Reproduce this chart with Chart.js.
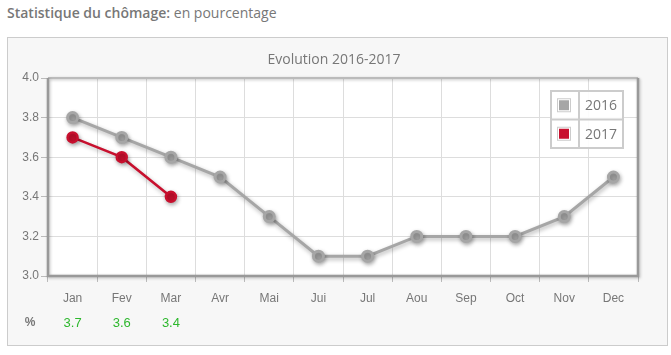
<!DOCTYPE html>
<html><head><meta charset="utf-8">
<script src="https://cdn.jsdelivr.net/npm/chart.js@4.4.1/dist/chart.umd.min.js"></script>
<style>
body{margin:0;background:#fff;width:671px;height:355px;overflow:hidden;position:relative;font-family:"Open Sans",sans-serif;}
#hd{position:absolute;left:7px;top:3px;font-size:14px;color:#777;}
#hd b{font-weight:600;}
#box{position:absolute;left:7px;top:37px;width:659px;height:307px;border:1px solid #ccc;background:#f7f7f7;}
#c{position:absolute;left:0;top:0;}
</style></head><body>
<div id="hd"><b>Statistique du chômage:</b> en pourcentage</div>
<div id="box"><canvas id="c" width="659" height="307"></canvas></div>
<script>
const months = ['Jan','Fev','Mar','Avr','Mai','Jui','Jul','Aou','Sep','Oct','Nov','Dec'];
const values2016 = [3.8,3.7,3.6,3.5,3.3,3.1,3.1,3.2,3.2,3.2,3.3,3.5];
const values2017 = [3.7,3.6,3.4];
const seriesNames = ['2016','2017'];
const chartTitle = 'Evolution 2016-2017';
const rowLabel = '%';

const gray = '#a6a6a6', red = '#c8102e';

const deco = {
  id:'deco',
  beforeDraw(chart){
    const {ctx, chartArea:a} = chart;
    ctx.save();
    ctx.fillStyle='#fff';
    ctx.fillRect(a.left,a.top,a.right-a.left,a.bottom-a.top);
    ctx.restore();
  },
  afterDraw(chart){
    const {ctx, chartArea:a} = chart;
    ctx.save();
    ctx.shadowColor='rgba(0,0,0,0.25)';
    ctx.shadowBlur=3; ctx.shadowOffsetX=1; ctx.shadowOffsetY=1;
    ctx.strokeStyle='#bbb'; ctx.lineWidth=2;
    ctx.beginPath(); ctx.moveTo(a.left,a.top); ctx.lineTo(a.right,a.top); ctx.stroke();
    ctx.strokeStyle='#999'; ctx.lineWidth=2.5;
    ctx.beginPath(); ctx.moveTo(a.left,a.top); ctx.lineTo(a.left,a.bottom); ctx.lineTo(a.right,a.bottom); ctx.lineTo(a.right,a.top); ctx.stroke();
    ctx.restore();
    ctx.save();
    ctx.font='14px "Open Sans"'; ctx.fillStyle='#777'; ctx.textAlign='center'; ctx.textBaseline='middle';
    ctx.fillText(chartTitle,326,22);
    const lx=543, ly=53, w=72, rh=28.5, cw=28;
    ctx.strokeStyle='#ccc'; ctx.lineWidth=2;
    ctx.fillStyle='rgba(255,255,255,0.9)';
    ctx.fillRect(lx,ly,w,rh*2);
    ctx.strokeRect(lx,ly,w,rh*2);
    ctx.beginPath(); ctx.moveTo(lx,ly+rh); ctx.lineTo(lx+w,ly+rh); ctx.moveTo(lx+cw,ly); ctx.lineTo(lx+cw,ly+2*rh); ctx.stroke();
    chart.data.datasets.forEach((ds,i)=>{
      const cy=ly+rh*i+rh/2;
      ctx.fillStyle='#fff'; ctx.fillRect(lx+6,cy-7,14,14);
      ctx.strokeStyle='#ccc'; ctx.lineWidth=1; ctx.strokeRect(lx+6.5,cy-6.5,13,13);
      ctx.fillStyle=ds.borderColor; ctx.fillRect(lx+8,cy-5,10,10);
      ctx.fillStyle='#777'; ctx.font='14px "Open Sans"'; ctx.textAlign='left'; ctx.textBaseline='middle';
      ctx.fillText(ds.label,lx+cw+6,cy+1);
    });
    const xs=chart.scales.x;
    ctx.textBaseline='middle'; ctx.textAlign='center';
    ctx.font='bold 12px "Liberation Sans"'; ctx.fillStyle='#777';
    ctx.fillText(rowLabel,22,285);
    ctx.font='13px "Liberation Sans"'; ctx.fillStyle='#2db82d';
    values2017.forEach((v,i)=>ctx.fillText(v.toFixed(1),xs.getPixelForValue(i),285));
    ctx.restore();
  },
  beforeDatasetsDraw(chart){
    const ctx=chart.ctx; ctx.save();
    ctx.shadowColor='rgba(0,0,0,0.3)'; ctx.shadowBlur=4; ctx.shadowOffsetX=1; ctx.shadowOffsetY=2;
  },
  afterDatasetsDraw(chart){ chart.ctx.restore(); }
};

new Chart(document.getElementById('c'),{
  type:'line',
  data:{labels:months,datasets:[
    {label:seriesNames[0],data:values2016,borderColor:gray,backgroundColor:gray,borderWidth:3,pointRadius:5,pointHoverRadius:5,tension:0},
    {label:seriesNames[1],data:values2017,borderColor:red,backgroundColor:red,borderWidth:2.5,pointRadius:5,pointHoverRadius:5,tension:0}
  ]},
  options:{
    responsive:false,animation:false,
    layout:{padding:{top:40,right:29,left:0,bottom:0}},
    plugins:{legend:{display:false},title:{display:false},tooltip:{enabled:false}},
    scales:{
      x:{offset:true,
        grid:{color:'#ddd',offset:true,tickLength:6,tickColor:'#bbb',drawOnChartArea:true},
        border:{display:false},
        ticks:{color:'#777',font:{family:'Liberation Sans',size:12},padding:9,maxRotation:0},
        afterFit(s){s.height=69;}
      },
      y:{min:3.0,max:4.0,
        grid:{color:'#ddd',tickLength:7,tickColor:'#bbb'},
        border:{display:false},
        ticks:{stepSize:0.2,color:'#777',font:{family:'Liberation Sans',size:12},padding:2,callback:v=>Number(v).toFixed(1)},
        afterFit(s){s.width=40;}
      }
    }
  },
  plugins:[deco]
});
</script>
</body></html>
